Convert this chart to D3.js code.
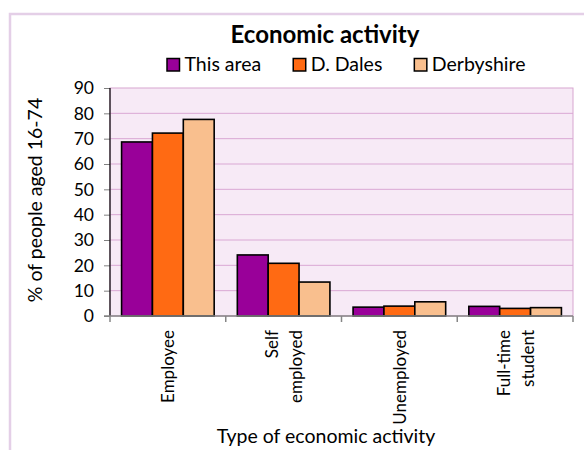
<!DOCTYPE html>
<html>
<head>
<meta charset="utf-8">
<script src="https://cdn.jsdelivr.net/npm/d3@7"></script>
<style>
html,body{margin:0;padding:0;background:#fff;}
svg{display:block;}
text{font-family:Lato,"Open Sans",sans-serif;fill:#000;}
</style>
</head>
<body>
<svg id="chart" width="584" height="450"></svg>
<script>
const categories = ["Employee", "Self employed", "Unemployed", "Full-time student"];
const categoryLines = [["Employee"], ["Self", "employed"], ["Unemployed"], ["Full-time", "student"]];
const seriesNames = ["This area", "D. Dales", "Derbyshire"];
const thisArea = [68.7, 24.1, 3.5, 3.8];
const dDales = [72.2, 20.8, 3.9, 3.0];
const derbyshire = [77.6, 13.4, 5.6, 3.3];
const yTicks = [0, 10, 20, 30, 40, 50, 60, 70, 80, 90];
const colors = ["#990099", "#ff6a13", "#f9bf8e"];

const seriesValues = [thisArea, dDales, derbyshire];

const svg = d3.select("#chart");
const plot = {left: 110, right: 573, top: 88, bottom: 316};

// outer chart border
svg.append("rect").attr("x", 10).attr("y", 14).attr("width", 700).attr("height", 600)
  .attr("fill", "none").attr("stroke", "#e4cfe7").attr("stroke-width", 2.5);

const x0 = d3.scaleBand().domain(categories).range([plot.left, plot.right]).padding(0);
const x1 = d3.scaleBand().domain(seriesNames).range([0, x0.bandwidth()]).paddingInner(0).paddingOuter(0.375);
const y = d3.scaleLinear().domain([0, 90]).range([plot.bottom, plot.top]);

// plot background
svg.append("rect").attr("x", plot.left).attr("y", plot.top)
  .attr("width", plot.right - plot.left).attr("height", plot.bottom - plot.top)
  .attr("fill", "#f7eaf6").attr("stroke", "#d7a6d0").attr("stroke-width", 1);

// gridlines
svg.append("g").selectAll("line").data(yTicks.filter(t => t > 0 && t < 90)).join("line")
  .attr("x1", plot.left).attr("x2", plot.right)
  .attr("y1", d => y(d)).attr("y2", d => y(d))
  .attr("stroke", "#daa8d4").attr("stroke-width", 1);

// bars
const groups = svg.append("g").selectAll("g").data(categories).join("g")
  .attr("transform", d => `translate(${x0(d)},0)`);
groups.selectAll("rect").data((c, i) => seriesNames.map((s, j) => ({s, j, v: seriesValues[j][i]}))).join("rect")
  .attr("x", d => x1(d.s)).attr("width", x1.bandwidth())
  .attr("y", d => y(d.v)).attr("height", d => y(0) - y(d.v))
  .attr("fill", d => colors[d.j]).attr("stroke", "#000").attr("stroke-width", 1.6);

// y axis
const yAxis = svg.append("g").attr("transform", `translate(${plot.left},0)`)
  .call(d3.axisLeft(y).tickValues(yTicks).tickSize(6).tickPadding(10));
yAxis.select(".domain").remove();
yAxis.selectAll(".tick line").attr("stroke", "#808080");
yAxis.selectAll(".tick text").style("font-size", "17.5px").attr("fill", "#000").attr("dy", "0.34em");
svg.append("line").attr("x1", plot.left).attr("x2", plot.left).attr("y1", plot.top).attr("y2", plot.bottom)
  .attr("stroke", "#000").attr("stroke-width", 1.2);

// x axis
svg.append("line").attr("x1", plot.left - 6).attr("x2", plot.right).attr("y1", plot.bottom).attr("y2", plot.bottom)
  .attr("stroke", "#868686").attr("stroke-width", 1.5);
const bounds = categories.map(c => x0(c)).concat([plot.right]);
svg.append("g").selectAll("line").data(bounds).join("line")
  .attr("x1", d => d).attr("x2", d => d).attr("y1", plot.bottom).attr("y2", plot.bottom + 6)
  .attr("stroke", "#868686").attr("stroke-width", 1.5);

// category labels (rotated)
const lineH = 24;
categories.forEach((c, i) => {
  const lines = categoryLines[i];
  const cx = x0(c) + x0.bandwidth() / 2;
  lines.forEach((ln, k) => {
    const off = (k - (lines.length - 1) / 2) * lineH;
    svg.append("text")
      .attr("transform", `translate(${cx + off + 6.5},${plot.bottom + 14}) rotate(-90)`)
      .attr("text-anchor", "end")
      .style("font-size", "17px")
      .text(ln);
  });
});

// axis titles
svg.append("text").attr("x", 326).attr("y", 443).attr("text-anchor", "middle")
  .style("font-size", "19.5px").text("Type of economic activity");
svg.append("text").attr("transform", `translate(42,200) rotate(-90)`).attr("text-anchor", "middle")
  .style("font-size", "19.5px").text("% of people aged 16-74");

// title
svg.append("text").attr("x", 325).attr("y", 43).attr("text-anchor", "middle")
  .style("font-size", "24px").style("font-weight", "bold").text("Economic activity");

// legend
const leg = svg.append("g");
let lx = 167;
seriesNames.forEach((s, j) => {
  leg.append("rect").attr("x", lx).attr("y", 58.5).attr("width", 12.5).attr("height", 12.5)
    .attr("fill", colors[j]).attr("stroke", "#000").attr("stroke-width", 1.5);
  const t = leg.append("text").attr("x", lx + 17.5).attr("y", 71).style("font-size", "19.5px").text(s);
  lx = lx + 17.5 + t.node().getComputedTextLength() + 32;
});
</script>
</body>
</html>
